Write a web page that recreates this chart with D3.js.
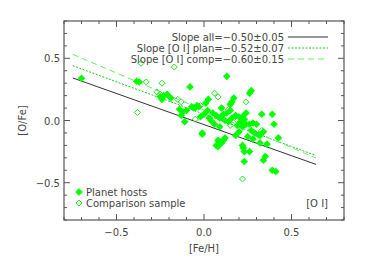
<!DOCTYPE html>
<html>
<head>
<meta charset="utf-8">
<script src="https://cdn.jsdelivr.net/npm/d3@7"></script>
<style>
	body { margin: 0; background: #fff; }
	text { font-family: "DejaVu Sans", sans-serif; fill: #444; }
</style>
</head>
<body>
<div id="chart"></div>
<script>
// planet hosts (filled diamonds)
const hostFeH = [-0.70, -0.385, -0.37, 0.13, -0.08, -0.25, -0.23, -0.21, -0.19, -0.24,
	0.27, 0.26, 0.025, 0.01, 0.17, 0.16, 0.15, -0.03, -0.07, -0.05,
	-0.12, -0.13, -0.11, -0.01, 0.05, 0.07, 0.09, 0.11, 0.12, 0.13,
	0.14, 0.03, 0.06, 0.09, 0.16, 0.18, 0.20, 0.21, 0.22, 0.19,
	0.23, 0.24, 0.26, 0.28, 0.30, 0.29, 0.31, 0.27, 0.33, 0.39,
	0.40, 0.425, 0.34, 0.32, 0.11, 0.09, 0.07, 0.08, 0.22, 0.225,
	0.26, 0.23, 0.35, 0.34, 0.39, 0.41, 0.36, 0.32, 0.02, 0.00,
	-0.02, 0.10, 0.15, 0.24, 0.20, 0.18, -0.14, -0.10, -0.06, -0.04,
	0.04, 0.08, 0.10, 0.12, 0.25, 0.28, -0.01, 0.22, 0.23];
const hostOFe = [0.34, 0.315, 0.31, 0.355, 0.27, 0.19, 0.20, 0.21, 0.18, 0.17,
	0.24, 0.22, 0.17, 0.14, 0.18, 0.15, 0.13, 0.11, 0.11, 0.10,
	0.07, 0.04, -0.01, -0.11, 0.06, 0.04, 0.02, 0.05, 0.00, 0.06,
	-0.01, 0.02, -0.03, -0.05, 0.02, 0.04, 0.03, -0.01, -0.05, -0.04,
	0.01, -0.03, -0.03, -0.02, -0.03, -0.10, -0.115, -0.08, 0.05, 0.05,
	-0.03, -0.14, -0.09, -0.12, -0.16, -0.17, -0.20, -0.21, -0.20, -0.22,
	-0.25, -0.33, -0.29, -0.32, -0.40, -0.41, -0.19, -0.18, 0.08, 0.05,
	0.03, 0.10, 0.08, 0.06, -0.09, -0.12, 0.09, 0.08, 0.10, 0.12,
	0.00, -0.16, -0.18, -0.14, -0.13, -0.15, -0.10, 0.03, -0.25];

// comparison sample (open diamonds)
const compFeH = [-0.36, -0.17, -0.33, -0.24, -0.27, -0.25, -0.38, -0.15, -0.13, 0.06,
	0.08, -0.05, 0.24, 0.14, 0.33, 0.22, -0.02, 0.10, 0.19, 0.15];
const compOFe = [0.46, 0.43, 0.31, 0.30, 0.23, 0.21, 0.065, 0.17, 0.15, 0.22,
	0.19, 0.01, 0.15, 0.09, -0.08, -0.47, 0.12, 0.03, 0.00, -0.04];

// fitted lines
const fitNames = ["Slope all=\u22120.50\u00b10.05", "Slope [O I] plan=\u22120.52\u00b10.07", "Slope [O I] comp=\u22120.60\u00b10.15"];
const fitIntercepts = [-0.033, 0.051, 0.082];
const fitSlopes = [-0.50, -0.52, -0.60];
const fitRange = [-0.75, 0.64];

const xTicks = [-0.5, 0.0, 0.5];
const yTicks = [-0.5, 0.0, 0.5];

const width = 365, height = 261;
const margin = {left: 64, top: 21, right: 21, bottom: 41};

const svg = d3.select("#chart").append("svg")
	.attr("width", width)
	.attr("height", height);

const x = d3.scaleLinear().domain([-0.8, 0.8]).range([margin.left, width - margin.right]);
const y = d3.scaleLinear().domain([-0.8, 0.8]).range([height - margin.bottom, margin.top]);

const axisColor = "#555";
const minor = d3.range(-0.8, 0.81, 0.1).map(v => Math.round(v * 10) / 10);
const isMajor = v => Math.abs(v * 2 - Math.round(v * 2)) < 1e-6;

// frame
svg.append("rect")
	.attr("x", x(-0.8)).attr("y", y(0.8))
	.attr("width", x(0.8) - x(-0.8)).attr("height", y(-0.8) - y(0.8))
	.attr("fill", "none").attr("stroke", axisColor).attr("stroke-width", 1.2);

// ticks on all four sides
const tickG = svg.append("g").attr("stroke", axisColor).attr("stroke-width", 1);
minor.forEach(v => {
	const len = isMajor(v) ? 6 : 3;
	tickG.append("line").attr("x1", x(v)).attr("x2", x(v)).attr("y1", y(-0.8)).attr("y2", y(-0.8) - len);
	tickG.append("line").attr("x1", x(v)).attr("x2", x(v)).attr("y1", y(0.8)).attr("y2", y(0.8) + len);
	tickG.append("line").attr("y1", y(v)).attr("y2", y(v)).attr("x1", x(-0.8)).attr("x2", x(-0.8) + len);
	tickG.append("line").attr("y1", y(v)).attr("y2", y(v)).attr("x1", x(0.8)).attr("x2", x(0.8) - len);
});

svg.selectAll(".xlab").data(xTicks).enter().append("text")
	.attr("x", d => x(d)).attr("y", y(-0.8) + 16)
	.attr("text-anchor", "middle").attr("font-size", 10)
	.text(d => d3.format(".1f")(d).replace("-", "\u2212"));

svg.selectAll(".ylab").data(yTicks).enter().append("text")
	.attr("x", x(-0.8) - 4).attr("y", d => y(d) + 4)
	.attr("text-anchor", "end").attr("font-size", 10)
	.text(d => d3.format(".1f")(d).replace("-", "\u2212"));

svg.append("text")
	.attr("x", x(0)).attr("y", 252)
	.attr("text-anchor", "middle").attr("font-size", 10)
	.text("[Fe/H]");

svg.append("text")
	.attr("transform", "translate(26," + y(0) + ") rotate(-90)")
	.attr("text-anchor", "middle").attr("font-size", 10)
	.text("[O/Fe]");

// fit lines
const fitStyles = [
	{color: "#333", dash: null},
	{color: "#22cc22", dash: "2,1.5"},
	{color: "#66ee66", dash: "6,4"}
];
const line = d3.line().x(d => x(d[0])).y(d => y(d[1]));
fitSlopes.forEach((b, i) => {
	const pts = fitRange.map(v => [v, fitIntercepts[i] + b * v]);
	svg.append("path")
		.attr("d", line(pts))
		.attr("fill", "none")
		.attr("stroke", fitStyles[i].color)
		.attr("stroke-width", 1)
		.attr("stroke-dasharray", fitStyles[i].dash);
});

// diamonds
const diamond = s => `M0,${-s}L${s},0L0,${s}L${-s},0Z`;

svg.selectAll(".comp").data(compFeH).enter().append("path")
	.attr("d", diamond(3))
	.attr("transform", (d, i) => `translate(${x(d)},${y(compOFe[i])})`)
	.attr("fill", "none").attr("stroke", "#22e022").attr("stroke-width", 1);

svg.selectAll(".host").data(hostFeH).enter().append("path")
	.attr("d", diamond(3.8))
	.attr("transform", (d, i) => `translate(${x(d)},${y(hostOFe[i])})`)
	.attr("fill", "#00ff00");

// legend top right
const legX = 284;
fitNames.forEach((name, i) => {
	const ly = 37 + i * 11;
	svg.append("text")
		.attr("x", legX).attr("y", ly + 3.5)
		.attr("text-anchor", "end").attr("font-size", 10)
		.text(name);
	svg.append("line")
		.attr("x1", legX + 4).attr("x2", legX + 44)
		.attr("y1", ly).attr("y2", ly)
		.attr("stroke", fitStyles[i].color)
		.attr("stroke-width", 1)
		.attr("stroke-dasharray", fitStyles[i].dash);
});

// legend bottom left
svg.append("path").attr("d", diamond(3.8))
	.attr("transform", "translate(79,192)").attr("fill", "#00ff00");
svg.append("text").attr("x", 86).attr("y", 195.5).attr("font-size", 10).text("Planet hosts");
svg.append("path").attr("d", diamond(3))
	.attr("transform", "translate(79,203)").attr("fill", "none").attr("stroke", "#22e022");
svg.append("text").attr("x", 86).attr("y", 206.5).attr("font-size", 10).text("Comparison sample");

svg.append("text").attr("x", 328).attr("y", 207).attr("text-anchor", "end")
	.attr("font-size", 10).text("[O I]");
</script>
</body>
</html>
